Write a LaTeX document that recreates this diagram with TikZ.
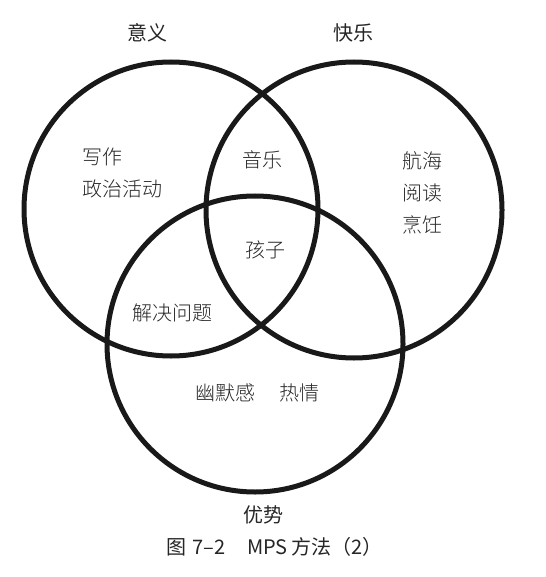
\documentclass[tikz,border=0pt]{standalone}
\usepackage{fontspec}
\newfontfamily\cjk{Noto Sans CJK SC}
\newfontfamily\cjklight{Noto Sans CJK SC Light}
\begin{document}
\begin{tikzpicture}[x=1pt,y=-1pt,
  ring/.style={draw=black!90,line width=5pt},
  title/.style={font=\cjk\fontsize{20}{22}\selectfont,inner sep=0pt,text=black!85},
  item/.style={font=\cjklight\fontsize{20}{22}\selectfont,inner sep=0pt,text=black!85},
  captext/.style={font=\cjk\fontsize{20}{22}\selectfont,inner sep=0pt,text=black!85}]
\useasboundingbox (0,0) rectangle (545,577);
\fill[white] (0,0) rectangle (545,577);
\draw[ring] (171,209) circle (147);
\draw[ring] (354,210) circle (148);
\draw[ring] (255,344) circle (148);
\node[title] (yiyi) at (147,33) {意义};
\node[title] (kuaile) at (353,33) {快乐};
\node[title] (youshi) at (263,515) {优势};
\node[item,anchor=west] (xiezuo) at (82,157) {写作};
\node[item,anchor=west] (zhengzhi) at (82,189) {政治活动};
\node[item] (yinyue) at (262,160) {音乐};
\node[item] (hanghai) at (422,161) {航海};
\node[item] (yuedu) at (422,193) {阅读};
\node[item] (pengren) at (422,225) {烹饪};
\node[item] (haizi) at (265,250) {孩子};
\node[item] (jiejue) at (172,313) {解决问题};
\node[item] (youmo) at (225,393) {幽默感};
\node[item] (reqing) at (299,393) {热情};
\node[captext,anchor=west] (caption) at (166,547) {图\hspace{0.3em}7–2\hspace{1.1em}MPS\hspace{0.2em}方法（2）};
\end{tikzpicture}
\end{document}
